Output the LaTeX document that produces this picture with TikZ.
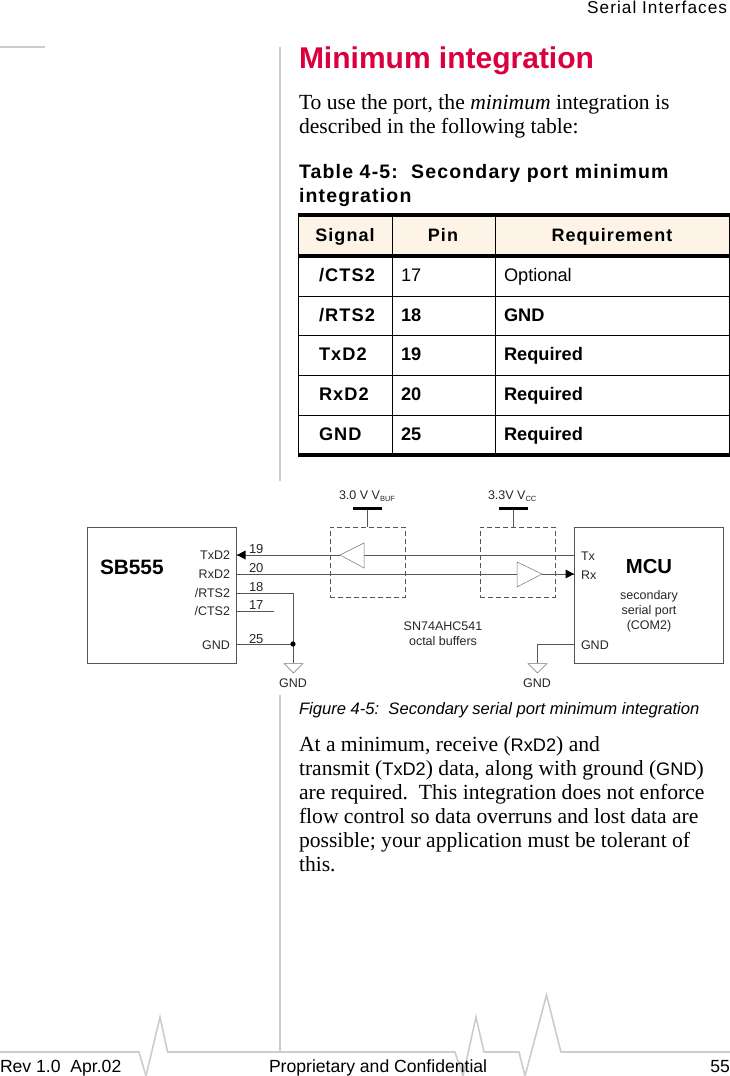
\documentclass[tikz,border=0pt]{standalone}
\usepackage{fontspec}
\setmainfont{Liberation Serif}
\newfontfamily\arial{Liberation Sans}
\newfontfamily\arialsp[LetterSpace=6]{Liberation Sans}
\newfontfamily\arialspb[LetterSpace=6,BoldFont={Liberation Sans Bold}]{Liberation Sans}
\newcommand{\fs}[1]{\fontsize{#1}{#1}\selectfont}
\usetikzlibrary{positioning}
\definecolor{titlered}{HTML}{D9003D}
\definecolor{rulegrey}{HTML}{CCCCCC}
\definecolor{wire}{HTML}{555555}
\definecolor{headfill}{HTML}{FDF3E7}
\tikzset{
  every node/.style={inner sep=0pt,outer sep=0pt},
  lft/.style={anchor=base west},
  rgt/.style={anchor=base east},
  ctr/.style={anchor=base},
  body/.style={lft,font=\fs{21.6}},
  cellb/.style={lft,font=\arialspb\fs{18.2}\bfseries},
  cell/.style={lft,font=\arial\fs{18.2}},
  cellB/.style={lft,font=\arial\fs{18.2}\bfseries},
  headc/.style={ctr,font=\arialspb\fs{18}\bfseries},
  pin/.style={font=\arial\fs{12.5},text=black!85},
  pinnum/.style={lft,font=\arial\fs{13},text=black!85},
  chipbox/.style={draw=wire,line width=.8pt,anchor=north west},
  dashbox/.style={draw=wire,line width=.7pt,dashed,dash pattern=on 5pt off 3pt,anchor=north west},
  wireline/.style={draw=wire,line width=.8pt},
  bar/.style={fill=black,minimum width=29pt,minimum height=3.2pt,anchor=center},
  gray tri/.style={draw=black!55,line width=.5pt,fill=white},
}
\begin{document}
\begin{tikzpicture}[x=1pt,y=-1pt]
\useasboundingbox (0,0) rectangle (730,1076);
% page furniture
\draw[rulegrey,line width=1.6pt] (0,47) -- (45,47);
\draw[rulegrey,line width=1.6pt] (280,47) -- (280,481);
\draw[rulegrey,line width=1.6pt] (280,695) -- (280,1052);
\draw[rulegrey,line width=1.6pt] (0,1052) -- (139,1052) -- (146,1076) -- (160,1017) -- (167.6,1052) -- (455,1052) -- (463,1076) -- (476,1017) -- (484,1052) -- (519,1052) -- (525,1076) -- (546.5,995) -- (561,1052) -- (730,1052);
\node[rgt,font=\arialsp\fs{17.2}] (hdr) at (727,13) {Serial Interfaces};
\node[lft,font=\arial\fs{30}\bfseries,text=titlered] (title) at (299,68) {Minimum integration};
\node[body] (p1) at (299,109) {To use the port, the \textit{minimum} integration is};
\node[body] (p2) at (299,133) {described in the following table:};
\node[lft,font=\arialspb\fs{19.5}\bfseries] (cap1) at (299,178) {Table 4-5:\ \ Secondary port minimum};
\node[lft,font=\arialspb\fs{19.5}\bfseries] (cap2) at (299,202) {integration};
% table
\fill[headfill] (298,215) rectangle (730,256);
\foreach \y in {296,335.5,375.5,415.5} \draw[black,line width=.8pt] (298,\y) -- (730,\y);
\foreach \x in {298,392.5,495.5} \draw[black,line width=.8pt] (\x,215) -- (\x,455);
\draw[black,line width=.8pt] (729.6,215) -- (729.6,455);
\foreach \y in {215,256,455} \draw[black,line width=3.6pt] (298,\y) -- (730,\y);
\node[headc] (hs) at (345,241) {Signal};
\node[headc] (hp) at (443,241) {Pin};
\node[headc] (hr) at (612,241) {Requirement};
\node[cellb] (s1) at (319,281) {/CTS2};
\node[cell] (n1) at (401,281) {17};
\node[cell] (r1) at (504,281) {Optional};
\node[cellb] (s2) at (319,321) {/RTS2};
\node[cellB] (n2) at (401,321) {18};
\node[cellB] (r2) at (504,321) {GND};
\node[cellb] (s3) at (319,360) {TxD2};
\node[cellB] (n3) at (401,360) {19};
\node[cellB] (r3) at (504,360) {Required};
\node[cellb] (s4) at (319,400) {RxD2};
\node[cellB] (n4) at (401,400) {20};
\node[cellB] (r4) at (504,400) {Required};
\node[cellb] (s5) at (319,440) {GND};
\node[cellB] (n5) at (401,440) {25};
\node[cellB] (r5) at (504,440) {Required};
% diagram boxes
\node[chipbox,minimum width=149pt,minimum height=136pt] (sb) at (87,527) {};
\node[chipbox,minimum width=149pt,minimum height=136pt] (mcu) at (574,527) {};
\node[dashbox,minimum width=75pt,minimum height=70pt] (d1) at (330,527) {};
\node[dashbox,minimum width=75pt,minimum height=70pt] (d2) at (480,527) {};
\node[bar] (b1) at (367.5,508.5) {};
\node[bar] (b2) at (513,508.5) {};
\draw[wireline] (b1) -- (b1 |- d1.north);
\draw[wireline] (b2) -- (b2 |- d2.north);
% pins
\coordinate (ptx) at (236,555);
\coordinate (prx) at (236,574);
\coordinate (prts) at (236,593);
\coordinate (pcts) at (236,611);
\coordinate (pgnd) at (236,644);
\coordinate (ctsend) at (274,611);
\coordinate (mtx) at (574,555);
\coordinate (mrx) at (574,574);
\coordinate (mgnd) at (574,644);
\coordinate (j) at (293,644);
\coordinate (g1) at (293,663);
\coordinate (g2) at (537,663);
% buffer triangles
\coordinate (t1a) at (340,555);
\coordinate (t1b) at (364,555);
\coordinate (t2a) at (517,574);
\coordinate (t2b) at (542,574);
\draw[wireline] (ptx) -- (t1a);
\draw[wireline] (t1b) -- (mtx);
\draw[wireline] (prx) -- (t2a);
\draw[wireline] (t2b) -- (mrx);
\draw[gray tri] (t1a) -- (364,543) -- (364,568) -- cycle;
\draw[gray tri] (t2b) -- (517,562) -- (517,587) -- cycle;
\fill[black] (237,555) -- (245.5,550.5) -- (245.5,559.5) -- cycle;
\fill[black] (574,574) -- (565.5,569.5) -- (565.5,578.5) -- cycle;
\draw[wireline] (prts) -| (g1);
\draw[wireline] (pcts) -- (ctsend);
\draw[wireline] (pgnd) -- (j);
\fill[black] (j) circle (2.6);
\draw[wireline] (mgnd) -| (g2);
\draw[gray tri] (284,663.5) -- (303,663.5) -- (293.5,673) -- cycle;
\draw[gray tri] (528,663.5) -- (547,663.5) -- (537.5,673) -- cycle;
% diagram text
\node[lft,font=\arial\fs{20.8}\bfseries] (sbl) at (100,574) {SB555};
\node[ctr,font=\arial\fs{20.3}\bfseries] (mcul) at (649,573) {MCU};
\node[pin,rgt] at (230,559) {TxD2};
\node[pin,rgt] at (230,578) {RxD2};
\node[pin,rgt] at (230,597) {/RTS2};
\node[pin,rgt] at (230,615) {/CTS2};
\node[pin,rgt] at (230,649) {GND};
\node[pinnum] at (249,553) {19};
\node[pinnum] at (249,572) {20};
\node[pinnum] at (249,591) {18};
\node[pinnum] at (249,609) {17};
\node[pinnum] at (249,643) {25};
\node[pin,lft] at (581,560) {Tx};
\node[pin,lft] at (581,579) {Rx};
\node[pin,lft] at (581,649) {GND};
\node[pin,ctr] at (649,599) {secondary};
\node[pin,ctr] at (649,614) {serial port};
\node[pin,ctr] at (649,629) {(COM2)};
\node[pin,ctr] at (443,630) {SN74AHC541};
\node[pin,ctr] at (443,645) {octal buffers};
\node[pin,ctr] at (293,687) {GND};
\node[pin,ctr] at (537,687) {GND};
\node[pin,lft] at (339,499) {3.0 V V\raisebox{-2.5pt}{\fs{7.5}BUF}};
\node[pin,lft] at (488,499) {3.3V V\raisebox{-2.5pt}{\fs{7.5}CC}};
% lower text
\node[lft,font=\arial\fs{16.6}\itshape] (figcap) at (299,714) {Figure 4-5:\ \ Secondary serial port minimum integration};
\node[body] at (299,751) {At a minimum, receive ({\arial\fs{18.2}RxD2}) and};
\node[body] at (299,775) {transmit ({\arial\fs{18.2}TxD2}) data, along with ground ({\arial\fs{18.2}GND})};
\node[body] at (299,799) {are required.\ \ This integration does not enforce};
\node[body] at (299,823) {flow control so data overruns and lost data are};
\node[body] at (299,847) {possible; your application must be tolerant of};
\node[body] at (299,871) {this.};
% footer
\node[lft,font=\arial\fs{17.6}] (f1) at (0,1072) {Rev 1.0\ \ Apr.02};
\node[lft,font=\arial\fs{17.6}] (f2) at (269,1072) {Proprietary and Confidential};
\node[rgt,font=\arial\fs{17.6}] (f3) at (730,1072) {55};
\end{tikzpicture}
\end{document}
